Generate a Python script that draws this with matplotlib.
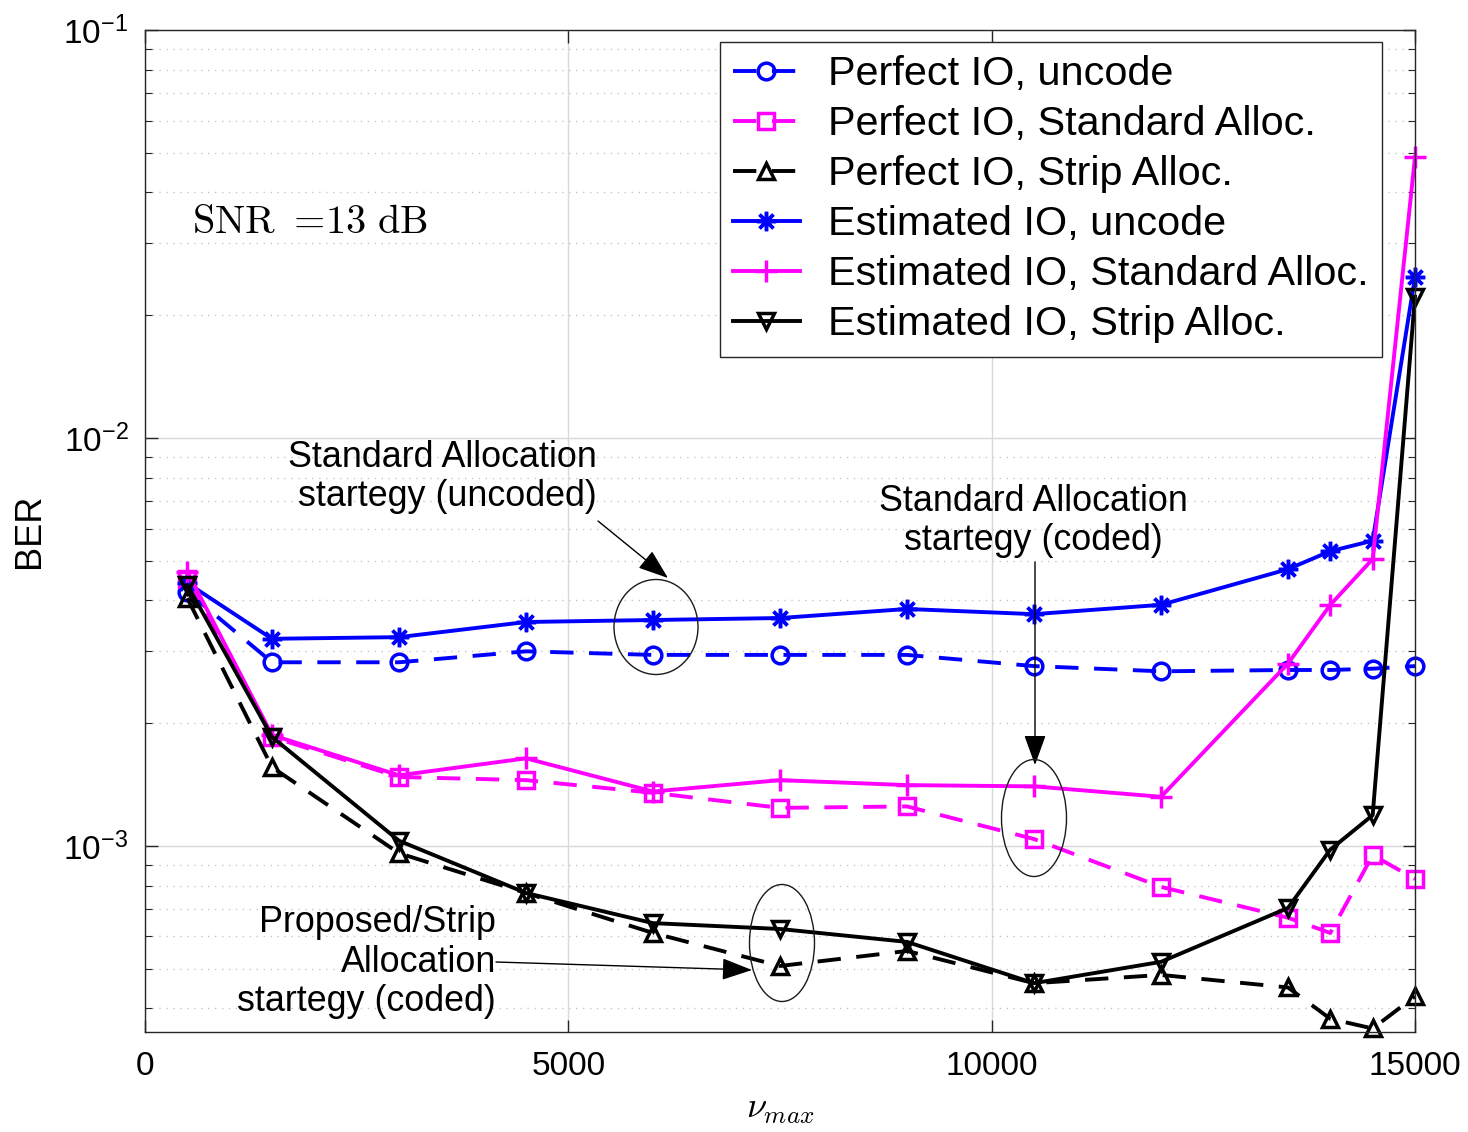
import matplotlib
matplotlib.use("Agg")
import matplotlib.pyplot as plt
from matplotlib.patches import Ellipse
from matplotlib.ticker import LogLocator, NullFormatter

plt.rcParams['font.family'] = ['Liberation Sans', 'DejaVu Sans']

nu_max = [500, 1500, 3000, 4500, 6000, 7500, 9000, 10500, 12000, 13500, 14000, 14500, 15000]
perfect_uncode = [4.2e-3, 2.82e-3, 2.82e-3, 3.0e-3, 2.94e-3, 2.94e-3, 2.94e-3, 2.76e-3, 2.68e-3, 2.7e-3, 2.7e-3, 2.72e-3, 2.76e-3]
perfect_std = [4.5e-3, 1.85e-3, 1.476e-3, 1.45e-3, 1.35e-3, 1.24e-3, 1.25e-3, 1.04e-3, 7.94e-4, 6.67e-4, 6.12e-4, 9.5e-4, 8.3e-4]
perfect_strip = [4.05e-3, 1.56e-3, 9.6e-4, 7.67e-4, 6.12e-4, 5.08e-4, 5.53e-4, 4.61e-4, 4.83e-4, 4.5e-4, 3.77e-4, 3.57e-4, 4.28e-4]
est_uncode = [4.41e-3, 3.22e-3, 3.25e-3, 3.54e-3, 3.58e-3, 3.62e-3, 3.81e-3, 3.70e-3, 3.90e-3, 4.77e-3, 5.28e-3, 5.6e-3, 2.48e-2]
est_std = [4.7e-3, 1.87e-3, 1.49e-3, 1.64e-3, 1.36e-3, 1.45e-3, 1.41e-3, 1.40e-3, 1.32e-3, 2.8e-3, 3.9e-3, 5.05e-3, 4.88e-2]
est_strip = [4.36e-3, 1.85e-3, 1.03e-3, 7.67e-4, 6.47e-4, 6.26e-4, 5.82e-4, 4.61e-4, 5.2e-4, 7.05e-4, 9.8e-4, 1.19e-3, 2.22e-2]

labels = ['Perfect IO, uncode', 'Perfect IO, Standard Alloc.', 'Perfect IO, Strip Alloc.',
          'Estimated IO, uncode', 'Estimated IO, Standard Alloc.', 'Estimated IO, Strip Alloc.']
xticks = [0, 5000, 10000, 15000]

W, H = 1468, 1132
fig = plt.figure(figsize=(W / 100, H / 100), dpi=100)
L, R, T, B = 145, 1415, 30, 1032
ax = fig.add_axes([L / W, 1 - B / H, (R - L) / W, (B - T) / H])

def af(px, py):
    return ((px - L) / (R - L), 1 - (py - T) / (B - T))

lw = 2.8
ms = 12
mew = 2.5
dash = (6, 4)
blue, mag, blk = (0, 0, 1), (1, 0, 1), (0, 0, 0)

common = dict(lw=lw, mew=mew, clip_on=False)
ax.plot(nu_max, perfect_uncode, color=blue, ls='--', dashes=dash, marker='o', ms=ms,
        mfc='none', label=labels[0], **common)
ax.plot(nu_max, perfect_std, color=mag, ls='--', dashes=dash, marker='s', ms=ms - 1,
        mfc='none', label=labels[1], **common)
ax.plot(nu_max, perfect_strip, color=blk, ls='--', dashes=dash, marker='^', ms=ms,
        mfc='none', label=labels[2], **common)
ax.plot(nu_max, est_uncode, color=blue, ls='-', marker=(8, 2, 0), ms=ms + 2,
        label=labels[3], **common)
ax.plot(nu_max, est_std, color=mag, ls='-', marker='+', ms=ms + 4,
        label=labels[4], **common)
ax.plot(nu_max, est_strip, color=blk, ls='-', marker='v', ms=ms,
        mfc='none', label=labels[5], **common)

ax.set_yscale('log')
ax.set_xlim(0, 15000)
ax.set_ylim(3.5e-4, 1e-1)
ax.set_xticks(xticks)
ax.set_xticklabels([str(v) for v in xticks])
ax.yaxis.set_major_locator(LogLocator(base=10, numticks=10))
ax.yaxis.set_minor_locator(LogLocator(base=10, subs=range(2, 10), numticks=50))
ax.yaxis.set_minor_formatter(NullFormatter())

ax.grid(True, which='major', axis='both', color=(0.85, 0.85, 0.85), lw=1.0, ls='-')
ax.grid(True, which='minor', axis='y', color=(0.78, 0.78, 0.78), lw=1.0, ls=(0, (1, 4)))
ax.set_axisbelow(True)

ax.tick_params(axis='both', which='both', direction='in', top=True, right=True,
               color=(0.15, 0.15, 0.15))
ax.tick_params(axis='both', which='major', length=9, width=1.0, labelsize=24)
ax.tick_params(axis='both', which='minor', length=5, width=0.8)
ax.tick_params(axis='x', pad=14)
ax.tick_params(axis='y', pad=12)
for sp in ax.spines.values():
    sp.set_color((0.15, 0.15, 0.15))
    sp.set_linewidth(1.0)

ax.set_ylabel('BER', fontsize=26, labelpad=12)
ax.set_xlabel(r'$\nu_{max}$', fontsize=26, math_fontfamily='cm', labelpad=6)

leg = ax.legend(loc='upper right', bbox_to_anchor=af(1382, 42), fontsize=29.8,
                frameon=True, fancybox=False, edgecolor=(0.15, 0.15, 0.15),
                framealpha=1, borderpad=0.32, labelspacing=0.29, handlelength=1.62,
                handletextpad=0.68, borderaxespad=0)
leg.get_frame().set_linewidth(1.0)

ax.text(*af(192, 222), r'$\mathrm{SNR}\ =\!13\ \mathrm{dB}$', transform=ax.transAxes,
        fontsize=29, math_fontfamily='cm', ha='left', va='center')

aprops = dict(arrowstyle='-|>,head_length=1.05,head_width=0.38', lw=1.0, color='black',
              mutation_scale=18, shrinkA=0, shrinkB=0)
fs_ann = 25.8
lsp = 1.18

ax.text(*af(597, 477), 'Standard Allocation\nstartegy (uncoded)', transform=ax.transAxes,
        fontsize=fs_ann, ha='right', va='center', multialignment='right', linespacing=lsp)
ax.annotate('', xy=af(668, 578), xytext=af(598, 521), xycoords='axes fraction',
            textcoords='axes fraction', arrowprops=aprops)

ax.text(*af(1033, 521), 'Standard Allocation\nstartegy (coded)', transform=ax.transAxes,
        fontsize=fs_ann, ha='center', va='center', multialignment='center', linespacing=lsp)
ax.annotate('', xy=af(1035, 765), xytext=af(1035, 562), xycoords='axes fraction',
            textcoords='axes fraction', arrowprops=aprops)

ax.text(*af(496, 962), 'Proposed/Strip\nAllocation\nstartegy (coded)', transform=ax.transAxes,
        fontsize=fs_ann, ha='right', va='center', multialignment='right', linespacing=lsp)
ax.annotate('', xy=af(752, 970), xytext=af(496, 962), xycoords='axes fraction',
            textcoords='axes fraction', arrowprops=aprops)

for (cx, cy, w, h) in [(656, 627, 84, 95), (1034, 818, 65, 117), (782, 943, 65, 117)]:
    c = af(cx, cy)
    e = Ellipse(c, w / (R - L), h / (B - T), transform=ax.transAxes, fill=False,
                edgecolor=(0.1, 0.1, 0.1), lw=1.0, zorder=5)
    ax.add_patch(e)

fig.savefig('out.png', dpi=100)
